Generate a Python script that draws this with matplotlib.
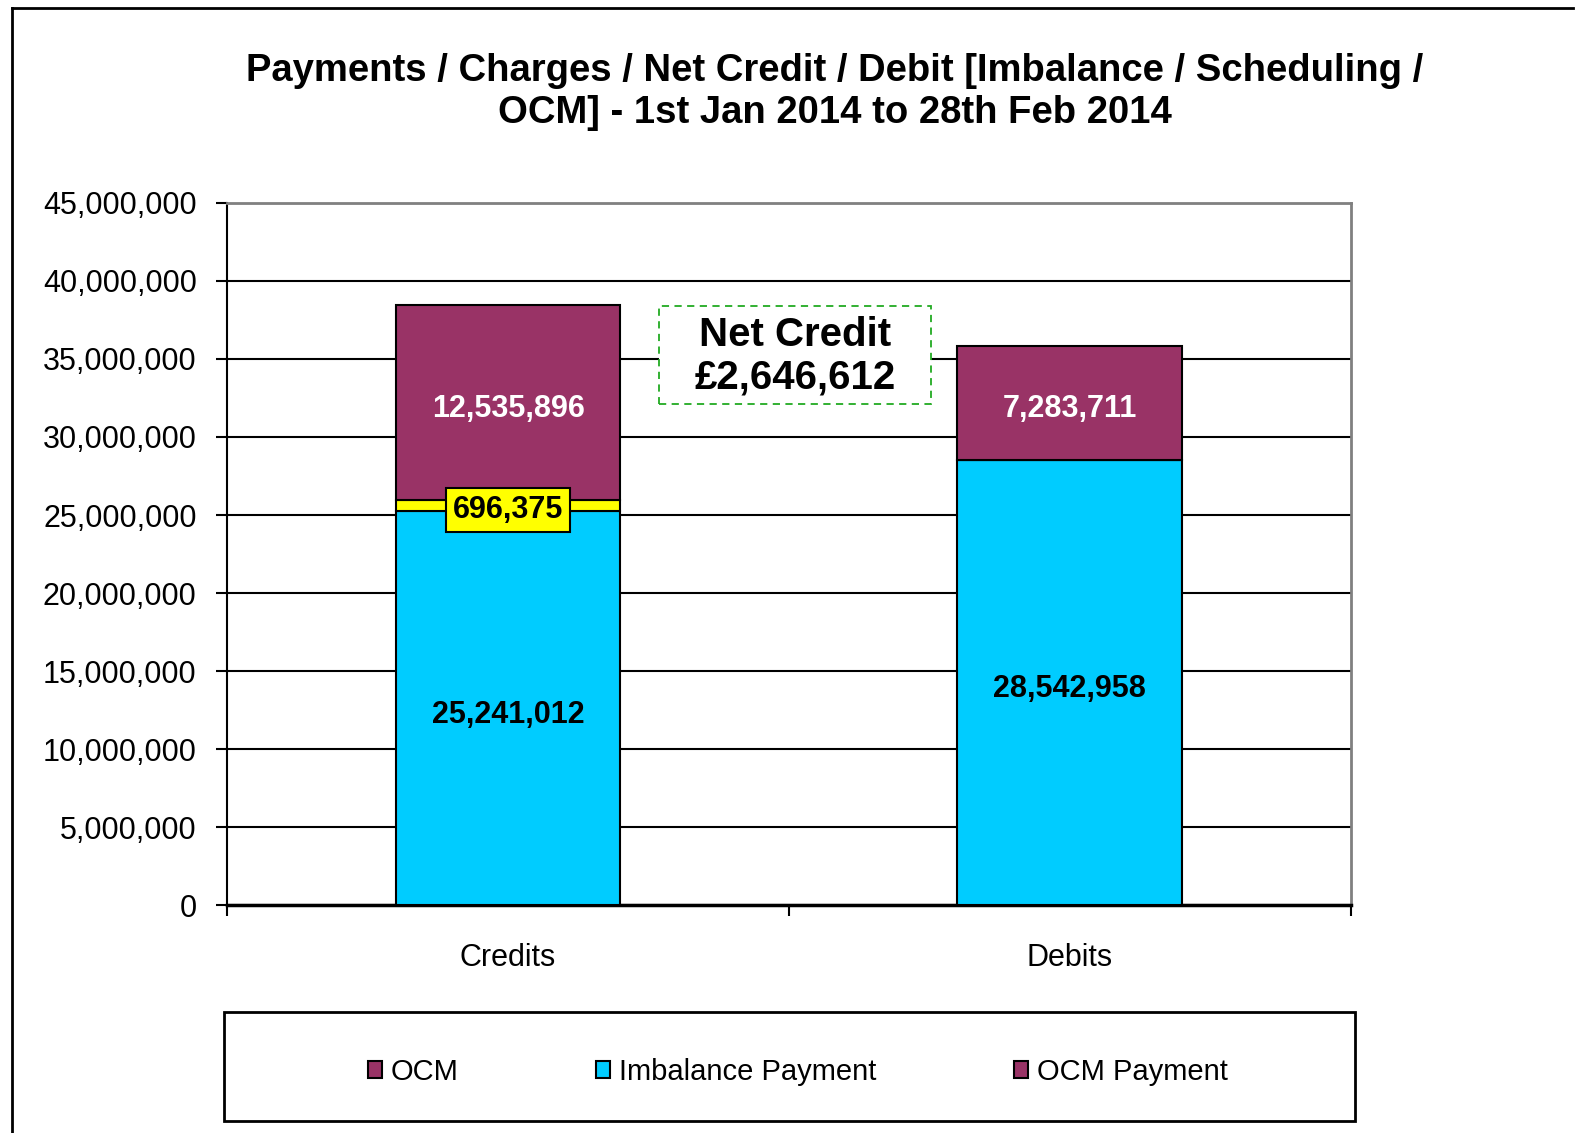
import matplotlib
matplotlib.use("Agg")
import matplotlib.pyplot as plt
from matplotlib.patches import Patch, Rectangle
from matplotlib.lines import Line2D
from matplotlib.ticker import FuncFormatter

categories = ["Credits", "Debits"]
imbalance = [25241012, 28542958]
scheduling = [696375, 0]
ocm = [12535896, 7283711]
net_credit = 2646612
yticks = list(range(0, 45000001, 5000000))

plt.rcParams['font.family'] = ['Liberation Sans', 'DejaVu Sans']

PURPLE = "#993366"
CYAN = "#00CCFF"
YELLOW = "#FFFF00"

fig = plt.figure(figsize=(15.89, 11.33), dpi=100)
ax = fig.add_axes([0.143, 0.201, 0.707, 0.620])

x = [0.5, 1.5]
w = 0.4
ax.bar(x, imbalance, width=w, color=CYAN, edgecolor="black", linewidth=1.5, zorder=3)
ax.bar(x, scheduling, width=w, bottom=imbalance, color=YELLOW, edgecolor="black", linewidth=1.5, zorder=3)
bot2 = [a + b for a, b in zip(imbalance, scheduling)]
ax.bar(x, ocm, width=w, bottom=bot2, color=PURPLE, edgecolor="black", linewidth=1.5, zorder=3)

fmt = lambda v: f"{v:,.0f}"
lab_kw = dict(ha="center", va="center", fontsize=22, fontweight="bold",
              textcoords="offset points", xytext=(0, -4.5))
for i in range(2):
    ax.annotate(fmt(imbalance[i]), (x[i], imbalance[i] / 2), color="black", zorder=5, **lab_kw)
    ax.annotate(fmt(ocm[i]), (x[i], bot2[i] + ocm[i] / 2), color="white", zorder=5, **lab_kw)
    if scheduling[i] > 0:
        ax.annotate(fmt(scheduling[i]), (x[i], imbalance[i] + scheduling[i] / 2), color="black", zorder=6,
                    bbox=dict(boxstyle="square,pad=0.22", facecolor=YELLOW, edgecolor="black", linewidth=1.5),
                    ha="center", va="center", fontsize=22, fontweight="bold",
                    textcoords="offset points", xytext=(0, -3))

# Net credit annotation box
ax.add_patch(Rectangle((0.769, 32.14e6), 0.484, 6.24e6, facecolor="white", edgecolor="#22AA22",
                       linestyle=(0, (4, 3)), linewidth=1.3, zorder=5))
ax.text(1.011, 35.2e6, f"Net Credit\n£{net_credit:,.0f}", ha="center", va="center",
        fontsize=29, fontweight="bold", color="black", linespacing=1.15, zorder=6)

ax.set_xlim(0, 2)
ax.set_ylim(0, 45e6)
ax.set_yticks(yticks)
ax.yaxis.set_major_formatter(FuncFormatter(lambda v, p: f"{v:,.0f}"))
ax.set_xticks([0, 1, 2])
ax.set_xticklabels([])
ax.set_xticks(x, minor=True)
ax.set_xticklabels(categories, minor=True)
ax.tick_params(axis="x", which="minor", length=0, pad=27, labelsize=22)
ax.tick_params(axis="x", which="major", length=8, width=1.5, direction="out")
ax.tick_params(axis="y", length=8, width=1.5, direction="out", labelsize=22, pad=14)

ax.grid(axis="y", color="black", linewidth=1.5, zorder=0)
ax.set_axisbelow(True)
for s in ["top", "right"]:
    ax.spines[s].set_color("#808080")
    ax.spines[s].set_linewidth(2)
ax.spines["left"].set_color("black")
ax.spines["left"].set_linewidth(1.5)
ax.spines["bottom"].set_color("black")
ax.spines["bottom"].set_linewidth(2.5)

fig.text(0.5255, 0.919, "Payments / Charges / Net Credit / Debit [Imbalance / Scheduling /\nOCM] - 1st Jan 2014 to 28th Feb 2014",
         ha="center", va="center", fontsize=27.5, fontweight="bold", linespacing=1.22)

# outer frame
fig.add_artist(Line2D([0.0076, 0.0076], [0.0, 0.9925], color="black", linewidth=2))
fig.add_artist(Line2D([0.0076, 0.99], [0.9925, 0.9925], color="black", linewidth=2))

# legend frame
fig.add_artist(Rectangle((0.141, 0.0106), 0.712, 0.0962, transform=fig.transFigure,
                         facecolor="white", edgecolor="black", linewidth=2))

handles = [Patch(facecolor=PURPLE, edgecolor="black", linewidth=1.5),
           Patch(facecolor=CYAN, edgecolor="black", linewidth=1.5),
           Patch(facecolor=PURPLE, edgecolor="black", linewidth=1.5)]
labels = ["OCM", "Imbalance Payment", "OCM Payment"]
leg = fig.legend(handles, labels, loc="center", bbox_to_anchor=(0.502, 0.054),
                 ncol=3, fontsize=21, frameon=False,
                 handlelength=0.5, handleheight=0.5, handletextpad=0.3, columnspacing=4.7)

fig.savefig("out.png", dpi=100)
